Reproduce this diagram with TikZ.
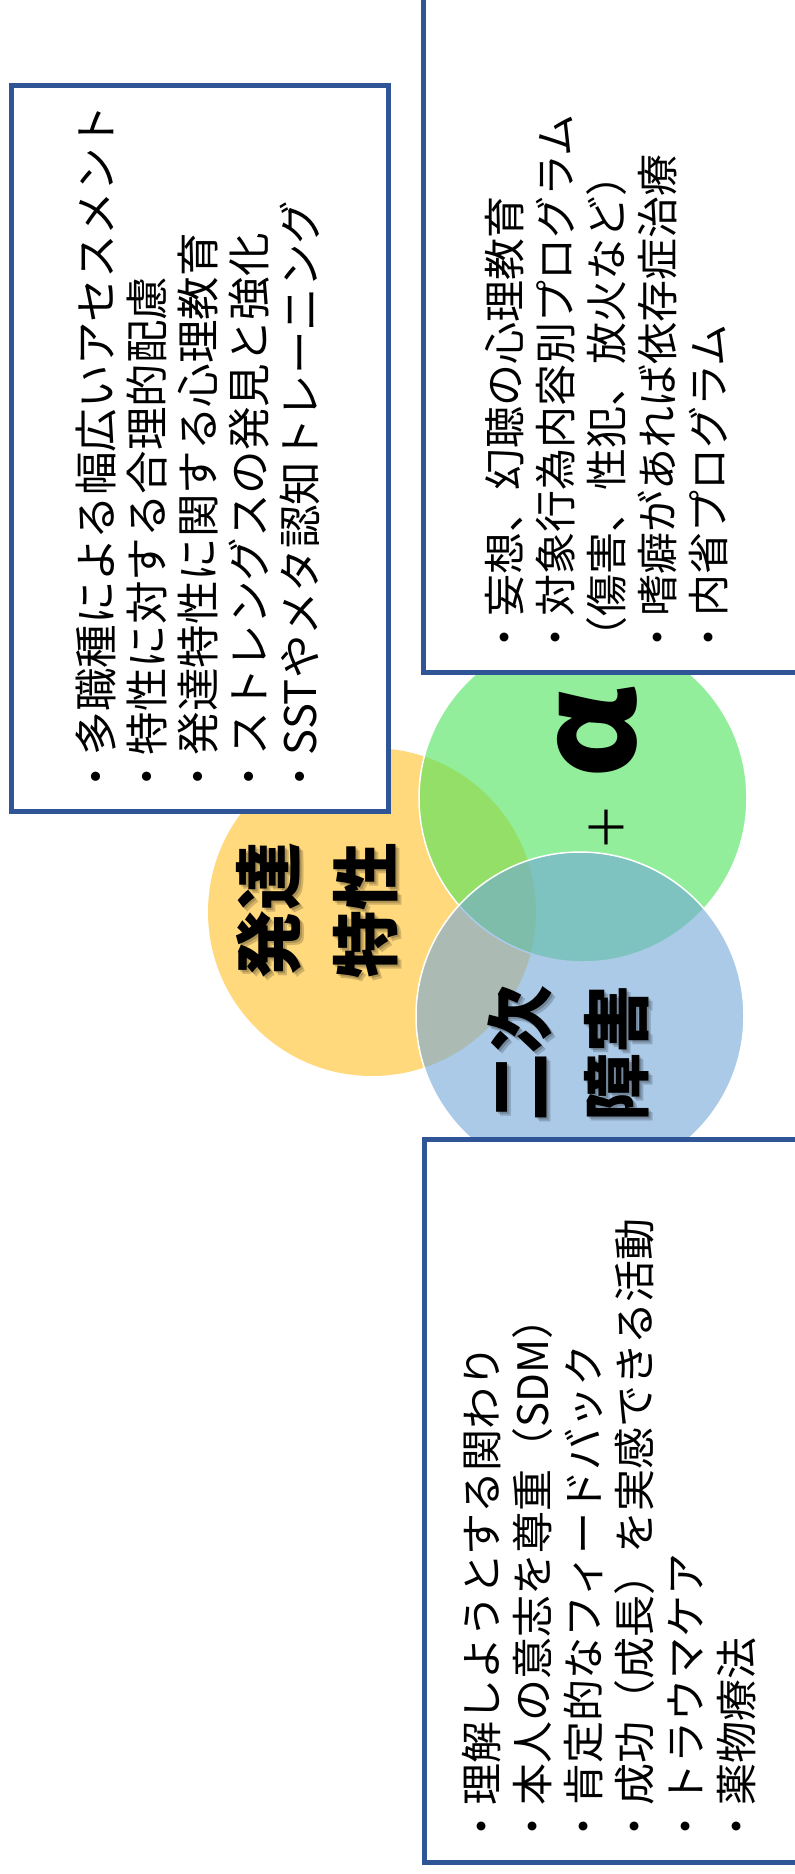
\documentclass[tikz,border=0pt]{standalone}
\usepackage{fontspec}
\newfontfamily\jp{Noto Sans CJK JP}
\definecolor{boxblue}{RGB}{47,85,151}
\definecolor{yelc}{RGB}{255,217,124}
\definecolor{grnc}{RGB}{75,227,90}
\definecolor{bluc}{RGB}{115,167,217}
\begin{document}
\begin{tikzpicture}[x=1pt,y=-1pt,
  venn/.style={circle,minimum size=328pt,inner sep=0pt},
  boxn/.style={draw=boxblue,line width=5pt,fill=white,rectangle,inner sep=0pt,anchor=north west},
  listtxt/.style={rotate=90,anchor=north west,align=left,inner sep=0pt},
  lbl/.style={rotate=90,inner sep=0pt,font=\jp\bfseries\fontsize{68}{68}\selectfont},
  lblsh/.style={lbl,text=black,opacity=0.18}]
\useasboundingbox (0,0) rectangle (795,1874);
\clip (0,0) rectangle (795,1874);
\fill[white] (0,0) rectangle (795,1874);
% circles
\node[venn,fill=yelc] (yel) at (372,912) {};
\node[venn,fill=grnc,fill opacity=0.6,draw=white,line width=1.5pt] (grn) at (583,798) {};
\node[venn,fill=bluc,fill opacity=0.6,draw=white,line width=1.5pt] (blu) at (580,1016) {};
% circle labels (soft shadow, then text)
\node[lblsh] (s1a) at (271,912) {発達};
\node[lblsh] (s2a) at (368,912) {特性};
\node[lblsh] (s3a) at (522,1055) {二次};
\node[lblsh] (s4a) at (619,1055) {障害};
\node[lblsh] (s1b) at (273,914) {発達};
\node[lblsh] (s2b) at (370,914) {特性};
\node[lblsh] (s3b) at (524,1057) {二次};
\node[lblsh] (s4b) at (621,1057) {障害};
\node[lbl] (l1) at (269,910) {発達};
\node[lbl] (l2) at (366,910) {特性};
\node[lbl] (l3) at (520,1053) {二次};
\node[lbl] (l4) at (617,1053) {障害};
\node[rotate=90,inner sep=0pt,font=\jp\bfseries\fontsize{134}{134}\selectfont] (al) at (597,733) {α};
\node[rotate=90,inner sep=0pt,font=\jp\fontsize{48}{48}\selectfont] (pl) at (607,827) {＋};
% boxes
\node[boxn,minimum width=377pt,minimum height=726pt] (b1) at (9,83) {};
\node[boxn,minimum width=410pt,minimum height=690pt] (b2) at (421,-20) {};
\node[boxn,minimum width=410pt,minimum height=723pt] (b3) at (422,1137) {};
% box texts
\node[listtxt,font=\jp\fontsize{43.5}{51}\selectfont] (t1) at (76,799) {・多職種による幅広いアセスメント\\・特性に対する合理的配慮\\・発達特性に関する心理教育\\・ストレングスの発見と強化\\・SSTやメタ認知トレーニング};
\node[listtxt,font=\jp\fontsize{42}{51}\selectfont] (t2) at (485,659) {・妄想、幻聴の心理教育\\・対象行為内容別プログラム\\（傷害、性犯、放火など）\\・嗜癖があれば依存症治療\\・内省プログラム};
\node[listtxt,font=\jp\fontsize{42}{51}\selectfont] (t3) at (462,1848) {・理解しようとする関わり\\・本人の意志を尊重（SDM）\\・肯定的なフィードバック\\・成功（成長）を実感できる活動\\・トラウマケア\\・薬物療法};
\end{tikzpicture}
\end{document}
